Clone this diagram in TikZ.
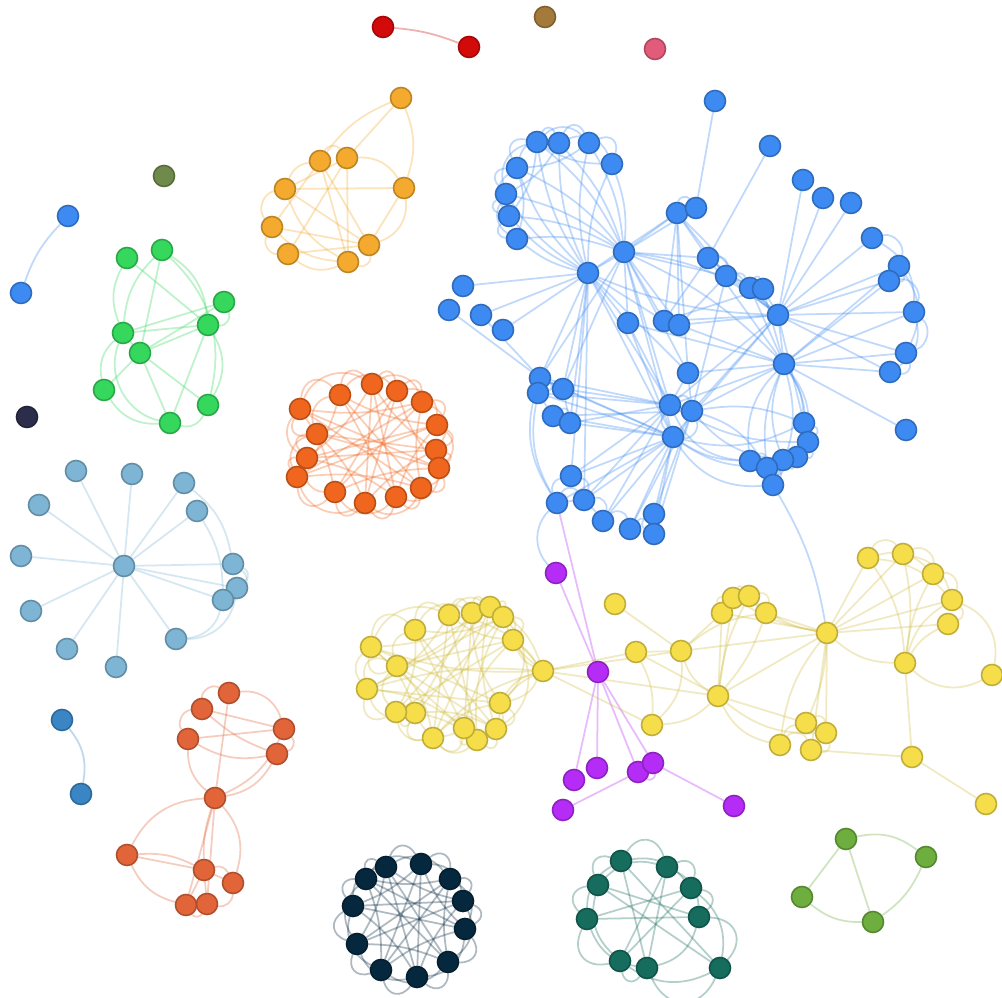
\documentclass[tikz,border=0pt]{standalone}
\usetikzlibrary{backgrounds}
\definecolor{cRed}{HTML}{D20A0A}
\definecolor{cBrown}{HTML}{A47A3C}
\definecolor{cPink}{HTML}{E35B7A}
\definecolor{cOlive}{HTML}{6F8A4B}
\definecolor{cBlue}{HTML}{3D8BF2}
\definecolor{cAmber}{HTML}{F4AA2E}
\definecolor{cGreen}{HTML}{35D85D}
\definecolor{cNight}{HTML}{2B2D4B}
\definecolor{cSky}{HTML}{7EB5D4}
\definecolor{cOrange}{HTML}{F0661E}
\definecolor{cPurple}{HTML}{B52CF6}
\definecolor{cYellow}{HTML}{F6DE4A}
\definecolor{cRust}{HTML}{E2653A}
\definecolor{cSteel}{HTML}{3A86C4}
\definecolor{cNavy}{HTML}{06283F}
\definecolor{cTeal}{HTML}{166C5D}
\definecolor{cLeaf}{HTML}{6DAE3E}
\tikzset{
  vert/.style={circle, inner sep=0pt, minimum size=2.1mm, line width=0.45pt, draw=#1!78!black, fill=#1},
  link/.style={draw=#1, line width=0.5pt, draw opacity=0.32},
  petal/.style={bend left=65, looseness=1.45}
}
\begin{document}
\begin{tikzpicture}[x=0.01cm, y=-0.01cm]
\useasboundingbox (0,0) rectangle (1002,998);

% loose vertices
\node[vert=cRed] (rd1) at (383,27) {};
\node[vert=cRed] (rd2) at (469,47) {};
\node[vert=cBrown] (brn) at (545,17) {};
\node[vert=cPink] (pnk) at (655,49) {};
\node[vert=cOlive] (olv) at (164,176) {};
\node[vert=cNight] (ngt) at (27,417) {};
\node[vert=cBlue] (bp1) at (68,216) {};
\node[vert=cBlue] (bp2) at (21,293) {};
\node[vert=cSteel] (st1) at (62,720) {};
\node[vert=cSteel] (st2) at (81,794) {};

% big blue component
\foreach \n/\x/\y in {b1/517/239, b2/509/216, b3/506/194, b4/517/168, b5/537/142, b6/559/143,
  b7/589/143, b8/612/164, b9/588/273, b10/624/252, b11/677/213, b12/696/208, b13/715/101,
  b14/770/146, b15/708/258, b16/726/276, b17/750/288, b18/763/289, b19/778/315, b20/803/180,
  b21/823/198, b22/851/203, b23/872/238, b24/899/266, b25/889/281, b26/914/312, b27/906/353,
  b28/890/372, b29/784/364, b30/906/430, b31/628/323, b32/664/321, b33/679/325, b34/688/373,
  b35/670/405, b36/692/411, b37/673/437, b38/804/423, b39/808/442, b40/797/457, b41/783/460,
  b42/750/461, b43/767/468, b44/773/485, b45/463/286, b46/449/310, b47/481/315, b48/503/330,
  b49/540/378, b50/538/393, b51/563/389, b52/553/416, b53/570/423, b54/571/476, b55/557/503,
  b56/584/500, b57/603/521, b58/630/529, b59/654/514, b60/654/534}
  \node[vert=cBlue] (\n) at (\x,\y) {};

\foreach \n/\x/\y in {g1/127/258, g2/162/250, g3/224/302, g4/208/325, g5/123/333, g6/140/353,
  g7/104/390, g8/208/405, g9/170/423}
  \node[vert=cGreen] (\n) at (\x,\y) {};

\foreach \n/\x/\y in {a1/401/98, a2/320/161, a3/347/158, a4/404/188, a5/285/189, a6/272/227,
  a7/288/254, a8/348/262, a9/369/245}
  \node[vert=cAmber] (\n) at (\x,\y) {};

\foreach \n/\x/\y in {or1/300/409, or2/340/395, or3/372/384, or4/397/391, or5/422/402,
  or6/437/425, or7/436/450, or8/439/468, or9/421/488, or10/396/497, or11/365/503,
  or12/335/492, or13/297/477, or14/307/458, or15/317/434}
  \node[vert=cOrange] (\n) at (\x,\y) {};

\foreach \n/\x/\y in {sk0/124/566, sk1/76/471, sk2/132/474, sk3/184/483, sk4/197/511, sk5/39/505,
  sk6/21/556, sk7/31/611, sk8/67/649, sk9/116/667, sk10/176/639, sk11/233/564, sk12/237/588,
  sk13/223/600}
  \node[vert=cSky] (\n) at (\x,\y) {};

\foreach \n/\x/\y in {yl1/371/647, yl2/415/630, yl3/449/615, yl4/472/613, yl5/490/607,
  yl6/503/617, yl7/513/640, yl8/500/703, yl9/496/729, yl10/477/740, yl11/464/728,
  yl12/433/738, yl13/415/713, yl14/396/712, yl15/367/689, yl16/397/666, yl17/543/671}
  \node[vert=cYellow] (\n) at (\x,\y) {};

\foreach \n/\x/\y in {yr1/615/604, yr2/636/652, yr3/681/651, yr4/652/725, yr5/718/696,
  yr6/722/613, yr7/733/598, yr8/749/596, yr9/766/613, yr10/827/633, yr11/868/558,
  yr12/903/554, yr13/933/574, yr14/952/600, yr15/948/624, yr16/905/663, yr17/992/675,
  yr18/806/723, yr19/826/733, yr20/811/750, yr21/780/745, yr22/912/757, yr23/986/804}
  \node[vert=cYellow] (\n) at (\x,\y) {};

\foreach \n/\x/\y in {p1/556/573, p2/598/672, p3/574/780, p4/597/768, p5/638/772,
  p6/653/763, p7/563/810, p8/734/806}
  \node[vert=cPurple] (\n) at (\x,\y) {};

\foreach \n/\x/\y in {ru1/229/693, ru2/202/709, ru3/188/739, ru4/284/729, ru5/277/754,
  ru6/215/798, ru7/127/855, ru8/204/870, ru9/233/883, ru10/186/905, ru11/207/904}
  \node[vert=cRust] (\n) at (\x,\y) {};

\foreach \n/\x/\y in {nv1/366/879, nv2/386/867, nv3/421/864, nv4/450/879, nv5/463/901,
  nv6/465/929, nv7/448/962, nv8/417/977, nv9/381/970, nv10/357/944, nv11/353/906}
  \node[vert=cNavy] (\n) at (\x,\y) {};

\foreach \n/\x/\y in {tl1/598/885, tl2/621/861, tl3/667/867, tl4/691/888, tl5/699/917,
  tl6/720/968, tl7/647/968, tl8/620/961, tl9/587/919}
  \node[vert=cTeal] (\n) at (\x,\y) {};

\foreach \n/\x/\y in {lg1/846/839, lg2/926/857, lg3/802/897, lg4/873/922}
  \node[vert=cLeaf] (\n) at (\x,\y) {};

\begin{scope}[on background layer]
\fill[white] (0,0) rectangle (1002,998);

\draw[link=cRed] (rd1) to[bend left=8] (rd2);
\draw[link=cBlue] (bp1) to[bend right=12] (bp2);
\draw[link=cSteel] (st1) to[bend left=25] (st2);

% blue: ring at the top left
\foreach \i in {1,...,7}{
  \pgfmathtruncatemacro\na{\i+1}
  \draw[link=cBlue] (b\i) to[petal] (b\na);
}
\foreach \i in {1,...,6}{
  \pgfmathtruncatemacro\na{\i+2}
  \draw[link=cBlue] (b\i) to[bend left=45] (b\na);
}
\foreach \i in {1,...,5}{
  \pgfmathtruncatemacro\na{\i+3}
  \draw[link=cBlue] (b\i) to[bend right=15] (b\na);
}
\foreach \i in {1,...,8}{
  \draw[link=cBlue] (b\i) to[bend right=12] (b9);
  \draw[link=cBlue] (b\i) to[bend left=12] (b10);
}
\foreach \a/\b in {b9/b45, b9/b47, b9/b48, b9/b49, b9/b51, b9/b54, b9/b10, b9/b31, b9/b11,
  b9/b35, b9/b37, b9/b53, b9/b32, b9/b34, b9/b56, b10/b11, b10/b12, b10/b31, b10/b32,
  b10/b33, b10/b15, b10/b34, b10/b35, b10/b37, b10/b49, b10/b51, b10/b16, b12/b13, b14/b15,
  b11/b15, b11/b16, b11/b19, b11/b32, b11/b33, b11/b34, b15/b17, b15/b19, b15/b29, b15/b32,
  b16/b18, b16/b19, b16/b33, b16/b36, b17/b19, b17/b29, b18/b19, b18/b29, b18/b32,
  b19/b20, b19/b21, b19/b22, b19/b23, b19/b24, b19/b25, b19/b26, b19/b27, b19/b28, b19/b29,
  b19/b32, b19/b33, b19/b35, b19/b36, b19/b37, b19/b38, b29/b24, b29/b25, b29/b26, b29/b27,
  b29/b28, b29/b30, b29/b34, b29/b35, b29/b36, b29/b33, b29/b31, b35/b49, b35/b50, b35/b51,
  b35/b53, b35/b54, b35/b56, b35/b57, b35/b31, b35/b34, b36/b52, b36/b58, b36/b59, b36/b60,
  b36/b34, b37/b49, b37/b50, b37/b51, b37/b52, b37/b53, b37/b54, b37/b55, b37/b56, b37/b57,
  b37/b58, b37/b59, b37/b60, b37/b31, b46/b49, b47/b49, b49/b51, b50/b52, b51/b53}
  \draw[link=cBlue] (\a) -- (\b);
\foreach \a/\b/\t in {b10/b19/15, b9/b19/-10, b10/b29/10, b11/b12/70, b17/b18/70,
  b23/b24/60, b24/b25/60, b25/b26/60, b26/b27/60, b27/b28/60, b23/b26/30, b24/b27/30,
  b26/b28/35, b15/b16/50, b16/b17/40, b29/b38/15, b29/b39/20, b29/b40/25, b29/b41/-20,
  b29/b42/-25, b29/b43/-15, b29/b44/20, b38/b39/60, b39/b40/60, b40/b41/60, b41/b43/60,
  b43/b44/60, b42/b43/60, b38/b40/30, b42/b44/30, b39/b41/35, b37/b38/-20, b37/b40/-25,
  b37/b42/-15, b37/b44/-30, b35/b39/-15, b36/b41/-20, b36/b43/20, b35/b42/-30, b36/b38/15,
  b35/b36/60, b36/b37/60, b35/b37/-40, b49/b50/70, b52/b53/60, b50/b51/40, b55/b56/60,
  b56/b57/60, b57/b58/60, b58/b60/60, b60/b59/60, b54/b56/50, b55/b57/30, b54/b55/-50,
  b55/b49/25, b55/b50/20, b44/yr10/10, b55/p1/-45}
  \draw[link=cBlue] (\a) to[bend left=\t] (\b);

% purple
\foreach \a/\b in {p1/p2, b55/p2, p2/p3, p2/p4, p2/p5, p2/p6, p5/p7, p6/p8}
  \draw[link=cPurple] (\a) -- (\b);
\draw[link=cPurple] (p5) to[bend right=70] (p6);

% green
\foreach \a/\b in {g1/g4, g2/g6, g3/g5, g3/g6, g4/g5, g4/g6, g5/g6, g6/g7, g6/g8, g6/g9, g4/g9}
  \draw[link=cGreen] (\a) -- (\b);
\foreach \a/\b/\t in {g1/g5/-25, g2/g5/-20, g2/g4/25, g2/g8/30, g3/g4/60, g5/g9/-50,
  g7/g9/-30, g4/g8/30, g8/g9/40, g5/g7/-30}
  \draw[link=cGreen] (\a) to[bend left=\t] (\b);

% amber
\foreach \a/\b in {a1/a3, a2/a8, a2/a9, a3/a7, a3/a8, a5/a4, a5/a9, a6/a9, a7/a9, a4/a9,
  a3/a5, a2/a6}
  \draw[link=cAmber] (\a) -- (\b);
\foreach \a/\b/\t in {a1/a2/-15, a1/a4/20, a2/a3/60, a3/a4/30, a5/a6/-60, a6/a7/-60,
  a7/a8/-30, a8/a9/-60, a9/a4/-40, a2/a5/-30, a5/a8/-20, a6/a8/-20}
  \draw[link=cAmber] (\a) to[bend left=\t] (\b);

% orange ring
\foreach \i in {1,...,15}{
  \pgfmathtruncatemacro\na{mod(\i,15)+1}
  \pgfmathtruncatemacro\nb{mod(\i+1,15)+1}
  \pgfmathtruncatemacro\nc{mod(\i+3,15)+1}
  \pgfmathtruncatemacro\nd{mod(\i+6,15)+1}
  \draw[link=cOrange] (or\i) to[petal] (or\na);
  \draw[link=cOrange] (or\i) to[bend left=50] (or\nb);
  \draw[link=cOrange] (or\i) to[bend right=10] (or\nc);
  \draw[link=cOrange] (or\i) -- (or\nd);
}

% sky star
\foreach \i in {1,...,13}
  \draw[link=cSky] (sk0) -- (sk\i);
\foreach \a/\b/\t in {sk3/sk11/20, sk4/sk13/15, sk11/sk12/60, sk12/sk13/40, sk13/sk10/35,
  sk12/sk10/40, sk11/sk13/70}
  \draw[link=cSky] (\a) to[bend left=\t] (\b);

% yellow, left ring
\foreach \i in {1,...,16}{
  \pgfmathtruncatemacro\na{mod(\i,16)+1}
  \pgfmathtruncatemacro\nb{mod(\i+1,16)+1}
  \pgfmathtruncatemacro\nc{mod(\i+3,16)+1}
  \pgfmathtruncatemacro\nd{mod(\i+6,16)+1}
  \draw[link=cYellow!85!black] (yl\i) to[petal] (yl\na);
  \draw[link=cYellow!85!black] (yl\i) to[bend left=45] (yl\nb);
  \draw[link=cYellow!85!black] (yl\i) to[bend right=15] (yl\nc);
  \draw[link=cYellow!85!black] (yl\i) -- (yl\nd);
}
\foreach \a/\b/\t in {yl17/yl3/-20, yl17/yl6/15, yl17/yl7/20, yl17/yl8/-20, yl17/yl9/-25,
  yl17/yl1/10, yl17/yl15/-10, yl17/yl12/-15, yl17/yl5/-20}
  \draw[link=cYellow!85!black] (\a) to[bend left=\t] (\b);

% yellow, right part
\foreach \a/\b in {yr1/yr3, yl17/yr2, yl17/yr3, yl17/yr4, yl17/yr5, yr2/yr3, yr2/yr5,
  yr3/yr6, yr3/yr10, yr5/yr6, yr5/yr7, yr5/yr10, yr5/yr18, yr6/yr10, yr9/yr10, yr10/yr11,
  yr10/yr12, yr10/yr13, yr10/yr14, yr10/yr15, yr10/yr19, yr10/yr20, yr16/yr22, yr22/yr23,
  yr20/yr22}
  \draw[link=cYellow!85!black] (\a) -- (\b);
\foreach \a/\b/\t in {yr3/yr4/25, yr3/yr5/-20, yr4/yr5/-20, yr2/yr4/15, yr6/yr7/60,
  yr7/yr8/60, yr8/yr9/60, yr6/yr9/40, yr3/yr9/15, yr5/yr8/10, yr5/yr9/-10, yr5/yr19/-20,
  yr5/yr21/-25, yr8/yr10/-15, yr7/yr10/-10, yr11/yr12/60, yr12/yr13/60, yr13/yr14/60,
  yr14/yr15/60, yr11/yr13/30, yr12/yr14/30, yr11/yr14/20, yr16/yr11/-15, yr16/yr12/-10,
  yr16/yr13/10, yr16/yr15/15, yr16/yr14/20, yr16/yr17/-35, yr14/yr17/40, yr10/yr16/-20,
  yr18/yr19/60, yr19/yr20/60, yr20/yr21/-60, yr18/yr21/-30, yr10/yr21/-15, yr10/yr18/10}
  \draw[link=cYellow!85!black] (\a) to[bend left=\t] (\b);

% rust
\foreach \a/\b in {ru1/ru6, ru3/ru4, ru6/ru10, ru6/ru11, ru7/ru8, ru8/ru9, ru8/ru10,
  ru8/ru11, ru2/ru4}
  \draw[link=cRust] (\a) -- (\b);
\foreach \a/\b/\t in {ru3/ru2/60, ru2/ru1/60, ru1/ru4/40, ru4/ru5/60, ru3/ru5/-20,
  ru2/ru5/-10, ru3/ru6/-25, ru5/ru6/25, ru4/ru6/20, ru6/ru7/-30, ru6/ru9/30, ru6/ru8/-10,
  ru7/ru10/-25, ru7/ru8/15, ru9/ru11/50, ru10/ru11/-60, ru8/ru9/40}
  \draw[link=cRust] (\a) to[bend left=\t] (\b);

% navy ring
\foreach \i in {1,...,11}{
  \pgfmathtruncatemacro\na{mod(\i,11)+1}
  \pgfmathtruncatemacro\nb{mod(\i+1,11)+1}
  \pgfmathtruncatemacro\nc{mod(\i+2,11)+1}
  \pgfmathtruncatemacro\nd{mod(\i+4,11)+1}
  \draw[link=cNavy] (nv\i) to[petal] (nv\na);
  \draw[link=cNavy] (nv\i) to[bend left=40] (nv\nb);
  \draw[link=cNavy] (nv\i) to[bend right=10] (nv\nc);
  \draw[link=cNavy] (nv\i) -- (nv\nd);
}

% teal ring
\foreach \i in {1,...,9}{
  \pgfmathtruncatemacro\na{mod(\i,9)+1}
  \pgfmathtruncatemacro\nb{mod(\i+1,9)+1}
  \pgfmathtruncatemacro\nd{mod(\i+3,9)+1}
  \draw[link=cTeal] (tl\i) to[petal] (tl\na);
  \draw[link=cTeal] (tl\i) to[bend left=30] (tl\nb);
  \draw[link=cTeal] (tl\i) -- (tl\nd);
}

% leaf green
\draw[link=cLeaf] (lg1) to[bend left=25] (lg2);
\draw[link=cLeaf] (lg1) -- (lg3);
\draw[link=cLeaf] (lg1) -- (lg4);
\draw[link=cLeaf] (lg2) to[bend left=15] (lg4);
\draw[link=cLeaf] (lg3) to[bend right=20] (lg4);
\end{scope}
\end{tikzpicture}
\end{document}
